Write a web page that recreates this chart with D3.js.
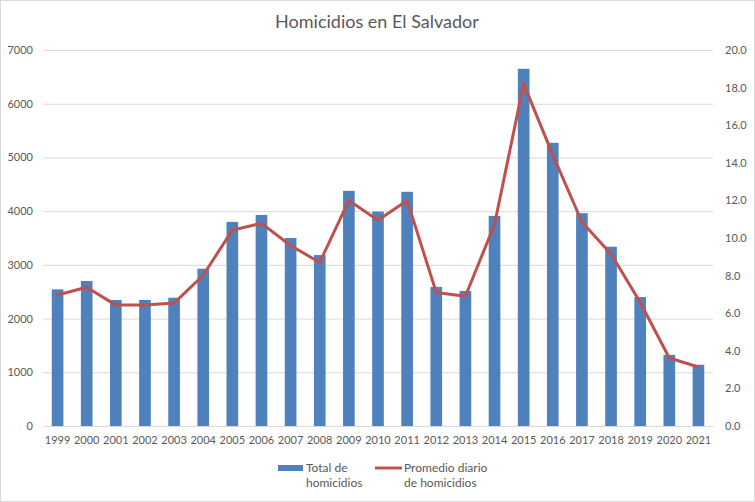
<!DOCTYPE html>
<html><head><meta charset="utf-8">
<script src="https://cdn.jsdelivr.net/npm/d3@7"></script>
<style>body{margin:0;background:#fff}svg{display:block}</style>
</head><body>
<svg id="c" width="755" height="502"></svg>
<script>
const years = ["1999","2000","2001","2002","2003","2004","2005","2006","2007","2008","2009","2010","2011","2012","2013","2014","2015","2016","2017","2018","2019","2020","2021"];
const totalHomicidios = [2544,2700,2346,2346,2388,2928,3800,3928,3500,3182,4378,3992,4360,2590,2513,3912,6650,5272,3962,3338,2400,1325,1140];
const promedioDiario = [6.97,7.38,6.43,6.43,6.54,8.02,10.42,10.78,9.60,8.70,12.0,10.95,12.0,7.10,6.90,10.72,18.2,14.42,10.85,9.15,6.58,3.62,3.14];
const leftTicks = [0,1000,2000,3000,4000,5000,6000,7000];
const rightTicks = [0,2,4,6,8,10,12,14,16,18,20];

const svg = d3.select("#c");
const F = "Lato, 'Open Sans', sans-serif";
const m = {l:43, r:42, t:50, b:76};
const W = 755, H = 502;
svg.append("rect").attr("x",0.5).attr("y",0.5).attr("width",W-1).attr("height",H-1).attr("fill","#fff").attr("stroke","#d9d9d9");

const x = d3.scaleBand().domain(years).range([m.l, W-m.r]).paddingInner(0.6).paddingOuter(0.3);
const yL = d3.scaleLinear().domain([0,7000]).range([H-m.b, m.t]);
const yR = d3.scaleLinear().domain([0,20]).range([H-m.b, m.t]);

// grid
svg.append("g").selectAll("line").data(leftTicks).join("line")
  .attr("x1",m.l).attr("x2",W-m.r).attr("y1",d=>yL(d)+0.5).attr("y2",d=>yL(d)+0.5)
  .attr("stroke","#d9d9d9").attr("stroke-width",1);

// left axis
const gl = svg.append("g").attr("transform",`translate(${m.l-10},0)`)
  .call(d3.axisLeft(yL).tickValues(leftTicks).tickSize(0).tickPadding(0).tickFormat(d3.format("d")));
gl.select(".domain").remove();
gl.selectAll("text").attr("font-family",F).attr("font-size",11).attr("fill","#595959");

// right axis
const gr = svg.append("g").attr("transform",`translate(${W-m.r+12},0)`)
  .call(d3.axisRight(yR).tickValues(rightTicks).tickSize(0).tickPadding(0).tickFormat(d3.format(".1f")));
gr.select(".domain").remove();
gr.selectAll("text").attr("font-family",F).attr("font-size",11).attr("fill","#595959");

// bars
svg.append("g").selectAll("rect").data(years).join("rect")
  .attr("x",d=>x(d)).attr("width",x.bandwidth())
  .attr("y",(d,i)=>yL(totalHomicidios[i])).attr("height",(d,i)=>yL(0)-yL(totalHomicidios[i]))
  .attr("fill","#4f81bd");

// x axis
const gx = svg.append("g").attr("transform",`translate(0,${H-m.b})`)
  .call(d3.axisBottom(x).tickSize(0).tickPadding(10));
gx.select(".domain").attr("stroke","#d9d9d9");
gx.selectAll("text").attr("font-family",F).attr("font-size",11).attr("fill","#595959");

// line
const line = d3.line().x((d,i)=>x(years[i])+x.bandwidth()/2).y(d=>yR(d));
svg.append("path").datum(promedioDiario).attr("d",line)
  .attr("fill","none").attr("stroke","#c0504d").attr("stroke-width",3).attr("stroke-linejoin","round").attr("stroke-linecap","round");

// title
svg.append("text").attr("x",377).attr("y",28).attr("text-anchor","middle")
  .attr("font-family",F).attr("font-size",18).attr("fill","#595959").text("Homicidios en El Salvador");

// legend
const lg = svg.append("g").attr("font-family",F).attr("font-size",12).attr("fill","#595959");
lg.append("rect").attr("x",278).attr("y",465).attr("width",25).attr("height",6).attr("fill","#4f81bd");
lg.append("text").attr("x",306).attr("y",472).text("Total de");
lg.append("text").attr("x",306).attr("y",487).text("homicidios");
lg.append("line").attr("x1",375).attr("x2",402).attr("y1",468).attr("y2",468).attr("stroke","#c0504d").attr("stroke-width",3);
lg.append("text").attr("x",404).attr("y",472).text("Promedio diario");
lg.append("text").attr("x",404).attr("y",487).text("de homicidios");
</script>
</body></html>
